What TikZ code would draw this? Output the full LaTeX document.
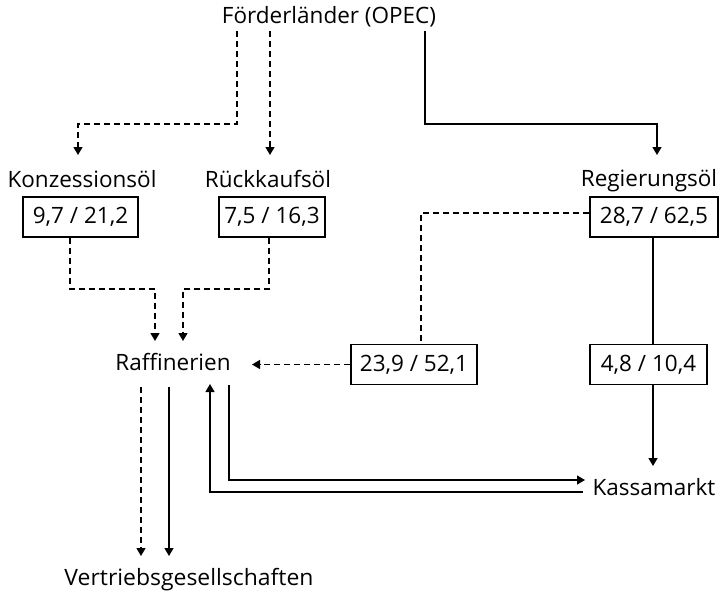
\documentclass[tikz,border=0pt]{standalone}
\usepackage{fontspec}
\setmainfont{Open Sans}
\usetikzlibrary{arrows.meta,calc}
\begin{document}
\begin{tikzpicture}[x=1pt,y=-1pt,
  lbl/.style={inner sep=0pt,anchor=base,font=\fontsize{22.5}{26}\selectfont},
  valbox/.style={draw,line width=1.3pt,inner sep=0pt,minimum height=40pt,font=\fontsize{22.5}{26}\selectfont},
  conn/.style={line width=1.3pt},
  dsh/.style={conn,dash pattern=on 6pt off 4pt},
  tip/.style={-{Triangle[length=8pt,width=9pt]}}
]
\useasboundingbox (0,0) rectangle (725,592);
% labels (positioned at their baselines)
\node[lbl] (opec) at (329,23) {Förderländer (OPEC)};
\node[lbl] (konz) at (82,187) {Konzessionsöl};
\node[lbl] (rueck) at (268,187) {Rückkaufsöl};
\node[lbl] (regier) at (649,186) {Regierungsöl};
\node[lbl] (raff) at (173,370) {Raffinerien};
\node[lbl] (kassa) at (654,495) {Kassamarkt};
\node[lbl,xscale=1.02] (vertrieb) at (189,585) {Vertriebsgesellschaften};
% boxes
\node[valbox,minimum width=115pt] (b1) at (80.5,217) {9,7 / 21,2};
\node[valbox,minimum width=106pt] (b2) at (272,217) {7,5 / 16,3};
\node[valbox,minimum width=128pt] (b3) at (654,217) {28,7 / 62,5};
\node[valbox,minimum width=126pt] (b4) at (414,364.5) {23,9 / 52,1};
\node[valbox,minimum width=117pt] (b5) at (648.5,364.5) {4,8 / 10,4};
% helper coordinates
\coordinate (o1) at (237,31);
\coordinate (o2) at (270,31);
\coordinate (o3) at (425,31);
% OPEC -> three kinds of oil
\draw[dsh,tip] (o1) -- (237,124) -- (78,124) -- (78,155);
\draw[dsh,tip] (o2) -- (270,155);
\draw[conn,tip] (o3) -- (425,124) -- (657,124) -- (657,155);
% boxes -> Raffinerien
\draw[dsh,tip] (b1.south -| 70,0) -- (70,289) -- (155,289) -- (155,341);
\draw[dsh,tip] (b2.south -| 269,0) -- (269,289) -- (183,289) -- (183,341);
% Regierungsoel -> 23,9 and 4,8
\draw[dsh] ([yshift=4pt]b3.west) -- (421,213) -- (b4.north -| 421,0);
\draw[conn] (b3.south -| 653,0) -- (b5.north -| 653,0);
\draw[dsh,tip] (b4.west) -- (b4.west -| 252,0);
\draw[conn,tip] (b5.south -| 653,0) -- (653,466);
% Raffinerien -> Vertrieb
\draw[dsh,tip] (141,387) -- (141,556);
\draw[conn,tip] (169,387) -- (169,556);
% Raffinerien <-> Kassamarkt
\draw[conn,tip] (229,385) -- (229,480) -- (585,480);
\draw[conn,tip] (583,492) -- (210,492) -- (210,384);
\end{tikzpicture}
\end{document}
